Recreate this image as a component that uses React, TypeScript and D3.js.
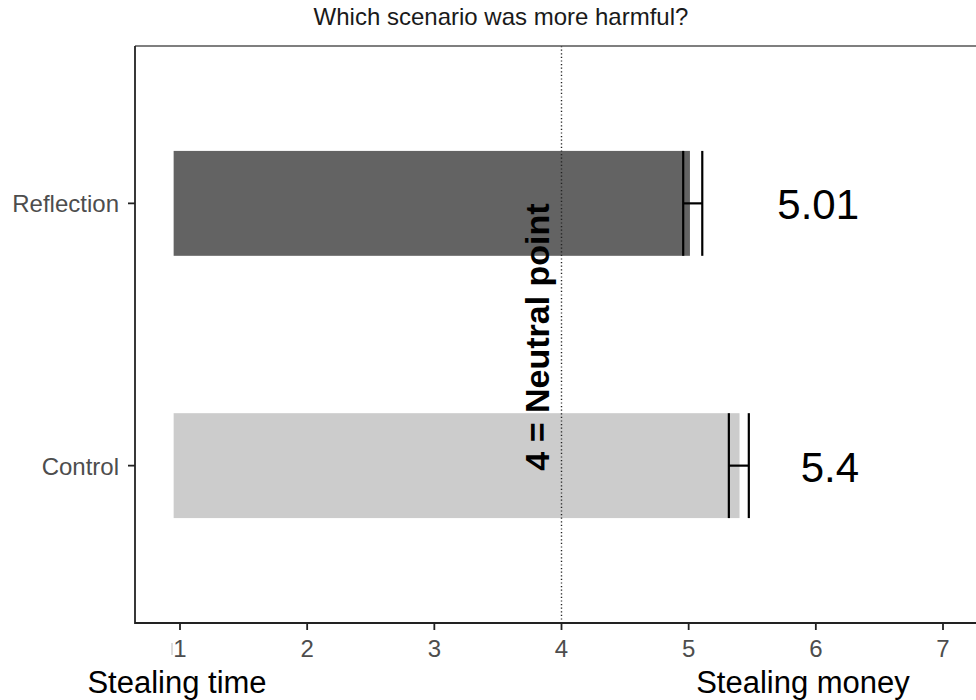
import React from "react";
import * as d3 from "d3";

const categories = ["Reflection", "Control"];
const means = [5.01, 5.4];
const lower = [4.957, 5.316];
const upper = [5.107, 5.473];
const meanLabels = ["5.01", "5.4"];
const barColors = ["#636363", "#cccccc"];
const xTicks = [1, 2, 3, 4, 5, 6, 7];
const barStart = 0.95;
const neutral = 4;

const W = 976;
const H = 700;
const panelLeft = 135;
const panelTop = 46;
const panelBottom = 623;

export default function App() {
  const x = d3.scaleLinear().domain([1, 7]).range([180, 943]);
  const y = d3
    .scalePoint<string>()
    .domain(categories)
    .range([panelTop, panelBottom])
    .padding(0.6);
  const step = y.step();
  const barH = step * 0.4;
  const capH = step * 0.2;
  const font = "Liberation Sans, Arial, Helvetica, sans-serif";

  return (
    <svg
      width={W}
      height={H}
      style={{ position: "absolute", left: 0, top: 0, background: "#fff" }}
      fontFamily={font}
    >
      <text x={501} y={25} textAnchor="middle" fontSize={24} fill="#1a1a1a">
        Which scenario was more harmful?
      </text>

      {/* bars */}
      {categories.map((c, i) => (
        <rect
          key={c}
          x={x(barStart)}
          y={(y(c) as number) - barH / 2}
          width={x(means[i]) - x(barStart)}
          height={barH}
          fill={barColors[i]}
        />
      ))}

      {/* neutral line */}
      <line
        x1={x(neutral)}
        x2={x(neutral)}
        y1={panelTop}
        y2={panelBottom}
        stroke="#222"
        strokeWidth={1.4}
        strokeDasharray="1.2 2.4"
      />

      {/* error bars */}
      {categories.map((c, i) => {
        const cy = y(c) as number;
        return (
          <g key={c} stroke="#000" strokeWidth={2.2}>
            <line x1={x(lower[i])} x2={x(upper[i])} y1={cy} y2={cy} />
            <line x1={x(lower[i])} x2={x(lower[i])} y1={cy - capH} y2={cy + capH} />
            <line x1={x(upper[i])} x2={x(upper[i])} y1={cy - capH} y2={cy + capH} />
          </g>
        );
      })}

      {/* value labels */}
      {categories.map((c, i) => (
        <text
          key={c}
          x={x(6.34)}
          y={(y(c) as number) + 16}
          textAnchor="end"
          fontSize={42}
          fill="#000"
        >
          {meanLabels[i]}
        </text>
      ))}

      <text
        transform={`translate(549, 337) rotate(-90)`}
        textAnchor="middle"
        fontSize={34}
        fontWeight="bold"
        fill="#000"
      >
        4 = Neutral point
      </text>

      {/* panel border */}
      <line x1={panelLeft} x2={W} y1={panelTop} y2={panelTop} stroke="#555" strokeWidth={1.4} />
      <line x1={panelLeft} x2={panelLeft} y1={panelTop} y2={panelBottom + 1} stroke="#222" strokeWidth={1.8} />
      <line x1={panelLeft} x2={W} y1={panelBottom} y2={panelBottom} stroke="#222" strokeWidth={1.8} />

      {/* y axis */}
      {categories.map((c) => (
        <g key={c}>
          <line
            x1={panelLeft - 7}
            x2={panelLeft}
            y1={y(c) as number}
            y2={y(c) as number}
            stroke="#222"
            strokeWidth={1.8}
          />
          <text
            x={panelLeft - 16}
            y={(y(c) as number) + 9}
            textAnchor="end"
            fontSize={24}
            fill="#4d4d4d"
          >
            {c}
          </text>
        </g>
      ))}

      {/* x axis */}
      {xTicks.map((t) => (
        <g key={t}>
          <line
            x1={x(t)}
            x2={x(t)}
            y1={panelBottom}
            y2={panelBottom + 7}
            stroke="#222"
            strokeWidth={1.8}
          />
          <text x={x(t)} y={657} textAnchor="middle" fontSize={24} fill="#4d4d4d">
            {t}
          </text>
        </g>
      ))}
      <line x1={172} x2={172} y1={643} y2={655} stroke="#bbb" strokeWidth={1} />

      <text x={177} y={693} textAnchor="middle" fontSize={31} fill="#000">
        Stealing time
      </text>
      <text x={803} y={693} textAnchor="middle" fontSize={31} fill="#000">
        Stealing money
      </text>
    </svg>
  );
}
